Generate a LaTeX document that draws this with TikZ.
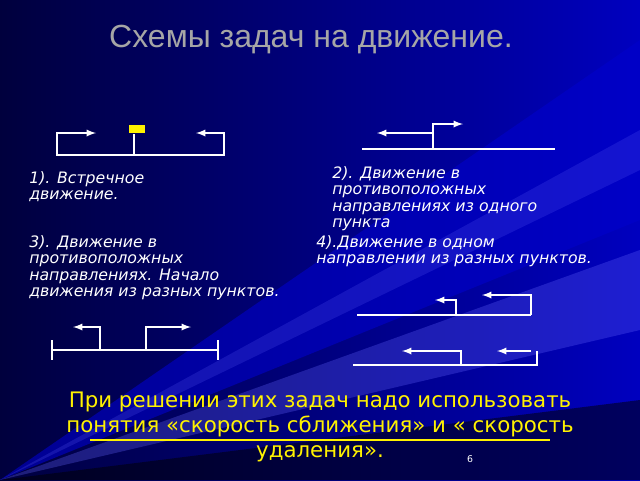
\documentclass[tikz,border=0pt]{standalone}
\usepackage{fontspec}
\setmainfont{DejaVu Sans}
\newfontfamily\titlefont{Liberation Sans}
\begin{document}
\begin{tikzpicture}[x=0.75pt,y=-0.75pt,
  ln/.style={draw=white,line width=1.4pt},
  ar/.style={ln,-latex},
  lbl/.style={text=white,font=\itshape\fontsize{11.8}{12.4}\selectfont,align=left,anchor=north west,inner sep=0pt}]
\useasboundingbox (0,0) rectangle (640,480);
\shade[left color=black!70!blue!80!black,right color=blue!75!black] (0,0) rectangle (640,480);
\fill[blue!80!black,opacity=0.6] (0,480) -- (640,40) -- (640,220) -- cycle;
\fill[blue!60!white,opacity=0.3] (0,480) -- (640,250) -- (640,330) -- cycle;
\fill[blue!60!white,opacity=0.2] (0,480) -- (640,130) -- (640,170) -- cycle;
\fill[black,opacity=0.5] (0,480) -- (640,400) -- (640,480) -- cycle;
\node[text=gray!70,font=\titlefont\fontsize{24}{28}\selectfont] (title) at (311,40) {Схемы задач на движение.};
% diagram 1
\coordinate (a1) at (57,155); \coordinate (a2) at (224,155); \coordinate (am) at (134,155);
\draw[ln] (93,133) -| (a1) -- (a2) |- (199,133);
\draw[ar] (57,133) -- (96,133);
\draw[ar] (224,133) -- (196,133);
\draw[ln] (am) -- (134,134);
\node[fill=yellow,minimum width=12pt,minimum height=6pt,inner sep=0pt] (car) at (136.5,129) {};
% diagram 2
\coordinate (b1) at (362,149); \coordinate (b2) at (555,149);
\draw[ln] (b1) -- (b2);
\draw[ar] (433,149) |- (463,124);
\draw[ar] (433,133) -- (377,133);
% diagram 3
\draw[ln] (52,350) -- (218,350);
\draw[ln,line width=0.8pt] (52,340) -- (52,360) (218,340) -- (218,360);
\draw[ar] (100,350) |- (73,327);
\draw[ar] (146,350) |- (191,327);
% diagram 4 top
\draw[ln] (357,315) -- (531,315);
\draw[ar] (531,315) |- (482,295);
\draw[ar] (456,315) |- (435,300);
% diagram 4 bottom
\draw[ln] (353,365) -- (537,365) -- (537,351);
\draw[ar] (531,351) -- (497,351);
\draw[ar] (461,365) |- (402,351);
% labels
\node[lbl] (l1) at (29,171) {1). Встречное\\движение.};
\node[lbl] (l2) at (332,166) {2). Движение в\\противоположных\\направлениях из одного\\пункта};
\node[lbl] (l3) at (29,235) {3). Движение в\\противоположных\\направлениях. Начало\\движения из разных пунктов.};
\node[lbl] (l4) at (316,235) {4).Движение  в  одном\\направлении из разных пунктов.};
\draw[yellow,line width=1.5pt] (90,440) -- (550,440);
\node[text=yellow,font=\fontsize{16}{18.5}\selectfont,align=center] (bottom) at (320,427) {При решении этих задач надо использовать\\понятия «скорость сближения» и « скорость\\удаления».};
\node[text=white,font=\fontsize{7}{8}\selectfont] (pg) at (470,459) {6};
\end{tikzpicture}
\end{document}
